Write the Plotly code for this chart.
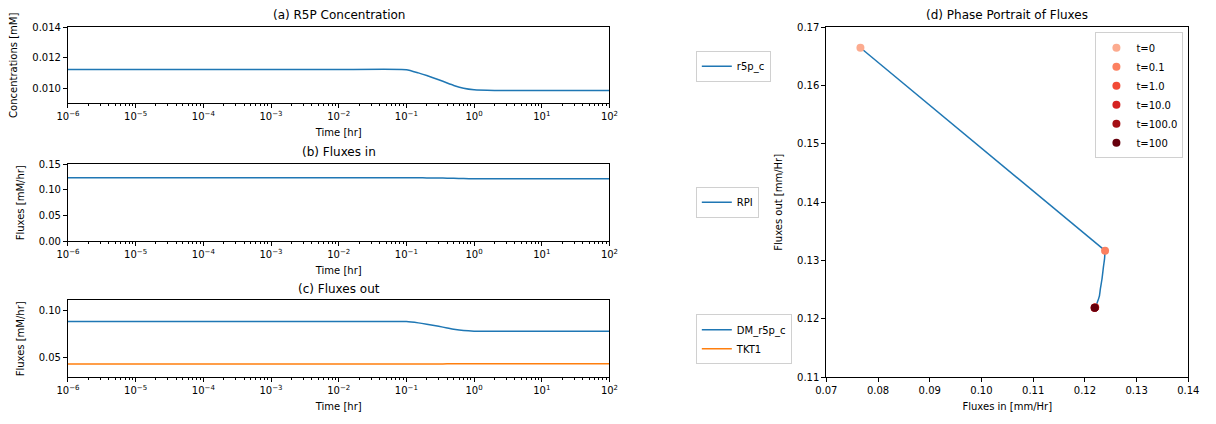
import plotly.graph_objects as go

# ---------------- data ----------------
time = [0, 1e-6, 1e-5, 1e-4, 1e-3, 1e-2, 0.1, 0.15, 0.2, 0.3, 0.4, 0.5, 0.7, 1.0, 2.0, 10.0, 100.0]
r5p_c = [0.01122, 0.01122, 0.01122, 0.01122, 0.01122, 0.01122, 0.01121, 0.01100, 0.01083, 0.01055,
         0.01033, 0.01017, 0.00998, 0.00988, 0.00984, 0.00984, 0.00984]
RPI = [0.0766, 0.1239, 0.1239, 0.1239, 0.1239, 0.1239, 0.1239, 0.1238, 0.1236, 0.1233,
       0.1230, 0.1228, 0.1223, 0.1220, 0.1219, 0.1219, 0.1219]
DM_r5p_c = [0.1228, 0.0880, 0.0880, 0.0880, 0.0880, 0.0880, 0.0880, 0.0866, 0.0852, 0.0830,
            0.0813, 0.0800, 0.0786, 0.0780, 0.0779, 0.0779, 0.0779]
TKT1 = [0.0437, 0.0437, 0.0437, 0.0437, 0.0437, 0.0437, 0.0437, 0.0437, 0.0438, 0.0438,
        0.0439, 0.0439, 0.0440, 0.0440, 0.0440, 0.0440, 0.0440]
marker_labels = ["t=0", "t=0.1", "t=1.0", "t=10.0", "t=100.0", "t=100"]
marker_times = [0, 0.1, 1.0, 10.0, 100.0, 100.0]
marker_colors = ["#fcab8f", "#fc8060", "#f24a36", "#d52221", "#a50f15", "#67000d"]

blue = "#1f77b4"
orange = "#ff7f0e"
FONT = "DejaVu Sans"

flux_out = [a + b for a, b in zip(DM_r5p_c, TKT1)]
t_pos = time[1:]

fig = go.Figure()

def add_line(x, y, name, color, xa, ya, legend):
    fig.add_trace(go.Scatter(x=x, y=y, mode="lines", name=name,
                             line=dict(color=color, width=1.5, shape="spline", smoothing=0.5),
                             xaxis=xa, yaxis=ya, legend=legend))

add_line(t_pos, r5p_c[1:], "r5p_c", blue, "x", "y", "legend")
add_line(t_pos, RPI[1:], "RPI", blue, "x2", "y2", "legend2")
add_line(t_pos, DM_r5p_c[1:], "DM_r5p_c", blue, "x3", "y3", "legend3")
add_line(t_pos, TKT1[1:], "TKT1", orange, "x3", "y3", "legend3")

# phase portrait: straight segment from t=0, smooth curve afterwards
fig.add_trace(go.Scatter(x=RPI[:2], y=flux_out[:2], mode="lines", line=dict(color=blue, width=1.5),
                         showlegend=False, xaxis="x4", yaxis="y4"))
fig.add_trace(go.Scatter(x=RPI[1:], y=flux_out[1:], mode="lines",
                         line=dict(color=blue, width=1.5, shape="spline", smoothing=0.5),
                         showlegend=False, xaxis="x4", yaxis="y4"))
for lab, tm, col in zip(marker_labels, marker_times, marker_colors):
    i = time.index(tm)
    fig.add_trace(go.Scatter(x=[RPI[i]], y=[flux_out[i]], mode="markers", name=lab,
                             marker=dict(color=col, size=8), xaxis="x4", yaxis="y4", legend="legend4"))

H = 424.0
W = 1216.0
def py(p):
    return 1 - p / H
def px(p):
    return p / W

decades = list(range(-6, 3))
major_vals = [10.0 ** d for d in decades]
major_text = ["10<sup>%s</sup>" % (str(d).replace("-", "\u2212")) for d in decades]
minor_vals = [m * 10.0 ** d for d in decades[:-1] for m in range(2, 10)]

axis_common = dict(showline=True, linecolor="black", linewidth=1, mirror=True, ticks="outside",
                   ticklen=4, tickcolor="black", showgrid=False, zeroline=False,
                   tickfont=dict(family=FONT, size=10, color="black"))

def logx(anchor):
    return dict(axis_common, type="log", range=[-6, 2], tickmode="array", tickvals=major_vals,
                ticktext=major_text, anchor=anchor, domain=[px(57), px(609)],
                title=dict(text="Time [hr]", font=dict(family=FONT, size=10, color="black"), standoff=7),
                minor=dict(ticks="outside", ticklen=2, tickcolor="black", tickmode="array",
                           tickvals=minor_vals, showgrid=False))

def ytitle(t):
    return dict(text=t, font=dict(family=FONT, size=10, color="black"), standoff=12)

layout = dict(
    width=1216, height=424, margin=dict(l=0, r=0, t=0, b=0),
    paper_bgcolor="white", plot_bgcolor="white",
    font=dict(family=FONT, size=10, color="black"),
    xaxis=logx("y"),
    yaxis=dict(axis_common, range=[0.009, 0.014], tickvals=[0.010, 0.012, 0.014],
               ticktext=["0.010", "0.012", "0.014"], domain=[py(100), py(22)], anchor="x",
               title=ytitle("Concentrations [mM]")),
    xaxis2=logx("y2"),
    yaxis2=dict(axis_common, range=[0, 0.15], tickvals=[0, 0.05, 0.10, 0.15],
                ticktext=["0.00", "0.05", "0.10", "0.15"], domain=[py(242), py(163)], anchor="x2",
                title=ytitle("Fluxes [mM/hr]")),
    xaxis3=logx("y3"),
    yaxis3=dict(axis_common, range=[0.03, 0.11], tickvals=[0.05, 0.10],
                ticktext=["0.05", "0.10"], domain=[py(382), py(303)], anchor="x3",
                title=ytitle("Fluxes [mM/hr]")),
    xaxis4=dict(axis_common, range=[0.07, 0.14], dtick=0.01, tickformat=".2f",
                domain=[px(830), px(1199)], anchor="y4",
                title=dict(text="Fluxes in [mm/Hr]", font=dict(family=FONT, size=10, color="black"), standoff=7)),
    yaxis4=dict(axis_common, range=[0.11, 0.17], dtick=0.01, tickformat=".2f",
                domain=[py(382), py(22)], anchor="x4",
                title=ytitle("Fluxes out [mm/Hr]")),
)

leg_common = dict(bgcolor="white", bordercolor="#d0d0d0", borderwidth=1,
                  font=dict(family=FONT, size=10, color="black"), xanchor="left", yanchor="middle")
layout["legend"] = dict(leg_common, x=px(697), y=py(62))
layout["legend2"] = dict(leg_common, x=px(697), y=py(202))
layout["legend3"] = dict(leg_common, x=px(697), y=py(343))
layout["legend4"] = dict(leg_common, x=px(1194), y=py(27), xanchor="right", yanchor="top",
                         tracegroupgap=0)

fig.update_layout(**layout)

titles = [("(a) R5P Concentration", 333, 22), ("(b) Fluxes in", 333, 163),
          ("(c) Fluxes out", 333, 303), ("(d) Phase Portrait of Fluxes", 1014, 22)]
for txt, cx, top in titles:
    fig.add_annotation(text=txt, x=px(cx), y=py(top - 3), xref="paper", yref="paper",
                       showarrow=False, xanchor="center", yanchor="bottom",
                       font=dict(family=FONT, size=12, color="black"))

fig.write_html("out.html")
